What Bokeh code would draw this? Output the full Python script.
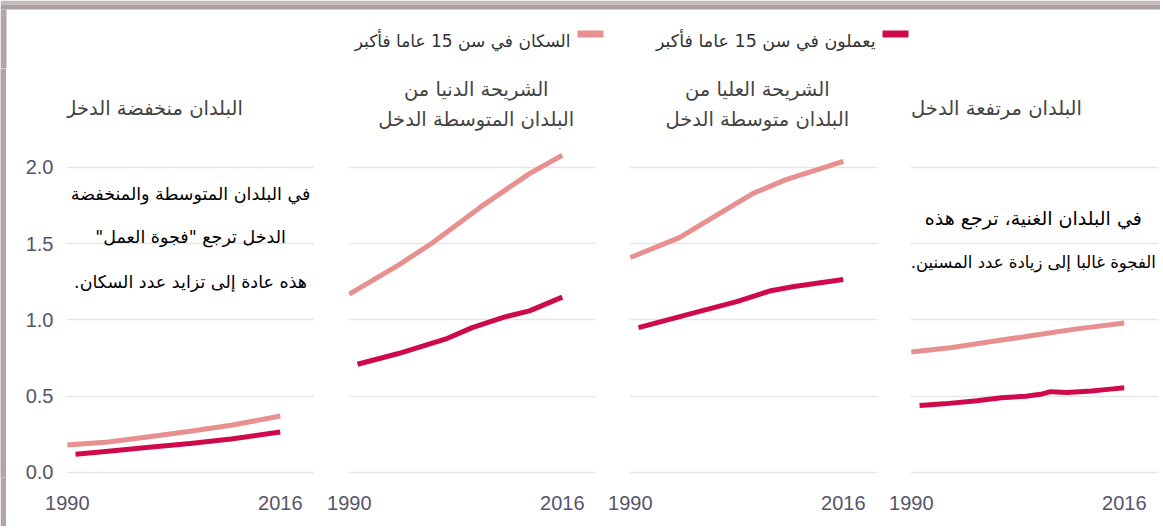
from bokeh.plotting import figure
from bokeh.layouts import column, row
from bokeh.models import FixedTicker, Grid, Label, Range1d
from bokeh.embed import file_html
from bokeh.resources import INLINE

# ---------------- data ----------------
legend_labels = ["يعملون في سن 15 عاما فأكبر", "السكان في سن 15 عاما فأكبر"]

panel_titles = [
    ["البلدان منخفضة الدخل"],
    ["الشريحة الدنيا من", "البلدان المتوسطة الدخل"],
    ["الشريحة العليا من", "البلدان متوسطة الدخل"],
    ["البلدان مرتفعة الدخل"],
]

x_ticks = [1990, 2016]
y_ticks = [0, 0.5, 1, 1.5, 2]
y_tick_labels = ["0.0", "0.5", "1.0", "1.5", "2.0"]

# low income
low_pop_years = [1990, 1995, 2000, 2005, 2010, 2016]
low_pop = [0.18, 0.20, 0.235, 0.27, 0.31, 0.37]
low_emp_years = [1991, 1995, 2000, 2005, 2010, 2016]
low_emp = [0.12, 0.14, 0.165, 0.19, 0.22, 0.265]

# lower-middle income
lmid_pop_years = [1990, 1996, 2000, 2006, 2012, 2016]
lmid_pop = [1.17, 1.36, 1.50, 1.74, 1.96, 2.08]
lmid_emp_years = [1991, 1996, 2002, 2005, 2009, 2012, 2016]
lmid_emp = [0.71, 0.78, 0.88, 0.95, 1.02, 1.06, 1.15]

# upper-middle income
umid_pop_years = [1990, 1996, 2000, 2005, 2009, 2016]
umid_pop = [1.41, 1.54, 1.67, 1.83, 1.92, 2.04]
umid_emp_years = [1991, 1998, 2003, 2007, 2010, 2016]
umid_emp = [0.95, 1.05, 1.12, 1.19, 1.22, 1.265]

# high income
high_pop_years = [1990, 1995, 2000, 2005, 2010, 2016]
high_pop = [0.79, 0.82, 0.86, 0.90, 0.94, 0.98]
high_emp_years = [1991, 1994, 1998, 2001, 2004, 2006, 2007, 2009, 2012, 2014, 2016]
high_emp = [0.44, 0.45, 0.47, 0.49, 0.50, 0.515, 0.53, 0.525, 0.535, 0.545, 0.555]

annot_low = ["في البلدان المتوسطة والمنخفضة",
             "الدخل ترجع \"فجوة العمل\"\u200f",
             "هذه عادة إلى تزايد عدد السكان.\u200f"]
annot_high = ["في البلدان الغنية، ترجع هذه",
              "الفجوة غالبا إلى زيادة عدد المسنين.\u200f"]

# ---------------- style ----------------
POP = "#E8908F"
EMP = "#CF0A4B"
GRID = "#e6e6e6"
TICK_COLOR = "#55556a"
FRAME_GRAY = "#b1a5a7"
AR_FONT = "DejaVu Sans"
NUM_FONT = "Liberation Sans"

HEADER_H = 68
PANEL_H = 458
FRAME_W = 248
X_RANGE = (1989.9, 2020.18)
Y_RANGE = (-0.0328, 2.649)

# ---------------- header (legend + decorative frame) ----------------
header = figure(width=1160, height=HEADER_H, x_range=Range1d(0, 1160),
                y_range=Range1d(0, HEADER_H),
                toolbar_location=None, output_backend="svg", min_border=0,
                x_axis_location=None, y_axis_location=None, outline_line_color=None)
header.grid.visible = False
header.quad(left=[0, 0, 0], right=[1160, 1160, 6], bottom=[64, 59, 0], top=[68, 64, 59],
            fill_color=["#c6bbbc", "#ab9fa2", FRAME_GRAY], line_color=None)
header.rect(x=[895, 590], y=[34.5, 34.5], width=26, height=7,
            fill_color=[EMP, POP], line_color=None)
header.add_layout(Label(x=875, y=28, text=legend_labels[0], text_align="right",
                        text_baseline="middle", text_font=AR_FONT, text_font_size="17.5px",
                        text_color="#333333"))
header.add_layout(Label(x=570, y=28, text=legend_labels[1], text_align="right",
                        text_baseline="middle", text_font=AR_FONT, text_font_size="17px",
                        text_color="#333333"))

strip = figure(width=6, height=PANEL_H, toolbar_location=None, output_backend="svg",
               min_border=0, x_axis_location=None, y_axis_location=None,
               outline_line_color=None, background_fill_color=FRAME_GRAY,
               border_fill_color=FRAME_GRAY)
strip.grid.visible = False


def make_panel(i, pop_x, pop_y, emp_x, emp_y, border_left, border_right=0):
    first = i == 0
    p = figure(width=border_left + FRAME_W + border_right, height=PANEL_H,
               x_range=Range1d(*X_RANGE), y_range=Range1d(*Y_RANGE),
               toolbar_location=None, output_backend="svg",
               min_border_left=border_left, min_border_right=border_right,
               min_border_top=0, min_border_bottom=PANEL_H - 409,
               y_axis_location="left" if first else None,
               outline_line_color=None)
    p.grid.visible = False
    p.add_layout(Grid(dimension=1, ticker=FixedTicker(ticks=y_ticks),
                      grid_line_color=GRID, grid_line_width=1.5))
    p.xaxis.ticker = FixedTicker(ticks=x_ticks)
    p.xaxis.axis_line_color = None
    p.xaxis.major_tick_line_color = None
    p.xaxis.minor_tick_line_color = None
    p.xaxis.major_label_text_font = NUM_FONT
    p.xaxis.major_label_text_font_size = "20px"
    p.xaxis.major_label_text_color = TICK_COLOR
    p.xaxis.major_label_standoff = 12
    if first:
        p.yaxis.ticker = FixedTicker(ticks=y_ticks)
        p.yaxis.major_label_overrides = {t: l for t, l in zip(y_ticks, y_tick_labels)}
        p.yaxis.axis_line_color = None
        p.yaxis.major_tick_line_color = None
        p.yaxis.minor_tick_line_color = None
        p.yaxis.major_label_text_font = NUM_FONT
        p.yaxis.major_label_text_font_size = "20px"
        p.yaxis.major_label_text_color = TICK_COLOR
        p.yaxis.major_label_standoff = 7

    p.line(pop_x, pop_y, line_width=5, color=POP, line_cap="butt", line_join="round")
    p.line(emp_x, emp_y, line_width=5, color=EMP, line_cap="butt", line_join="round")

    titles = panel_titles[i]
    if len(titles) == 1:
        p.add_layout(Label(x=2000.4, y=2.387, text=titles[0], text_align="center",
                           text_baseline="middle", text_font=AR_FONT,
                           text_font_size="19.5px", text_color="#444444"))
    else:
        for t, yy in zip(titles, [2.511, 2.315]):
            p.add_layout(Label(x=2005.5, y=yy, text=t, text_align="center",
                               text_baseline="middle", text_font=AR_FONT,
                               text_font_size="19.5px", text_color="#444444"))
    return p


f1 = make_panel(0, low_pop_years, low_pop, low_emp_years, low_emp, 60)
f2 = make_panel(1, lmid_pop_years, lmid_pop, lmid_emp_years, lmid_emp, 34)
f3 = make_panel(2, umid_pop_years, umid_pop, umid_emp_years, umid_emp, 33)
f4 = make_panel(3, high_pop_years, high_pop, high_emp_years, high_emp, 33, 2)

for t, yy in zip(annot_low, [1.823, 1.541, 1.246]):
    f1.add_layout(Label(x=2005.05, y=yy, text=t, text_align="center", text_baseline="middle",
                        text_font=AR_FONT, text_font_size="17.5px",
                        text_color="#000000"))
for t, yy, fs in zip(annot_high, [1.666, 1.377], ["19px", "16.5px"]):
    f4.add_layout(Label(x=2004.9, y=yy, text=t, text_align="center", text_baseline="middle",
                        text_font=AR_FONT, text_font_size=fs,
                        text_color="#000000"))

layout = column(header, row(strip, f1, f2, f3, f4))

open("out.html", "w").write(file_html(layout, INLINE))
